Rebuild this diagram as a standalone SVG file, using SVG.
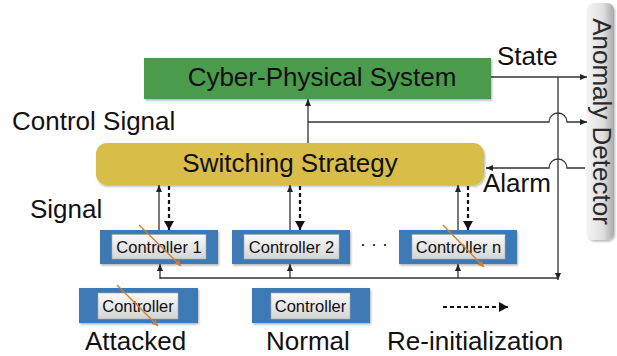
<svg xmlns="http://www.w3.org/2000/svg" width="617" height="356" viewBox="0 0 617 356">
<style>
text{font-family:"Liberation Sans",Arial,Helvetica,sans-serif;fill:#111}
.big{font-size:26px}
.ctl{font-size:16.5px;text-anchor:middle}
.blue{fill:#3e79b4}
.inner{fill:url(#gInner);stroke:#a9a9a9;stroke-width:0.6}
.ln{fill:none;stroke:#333;stroke-width:1.3}
.dash{fill:none;stroke:#111;stroke-width:2.2;stroke-dasharray:4 3}
.atk{fill:none;stroke:#d97a2b;stroke-width:1.3}
</style>
<defs>
<linearGradient id="gInner" x1="0" y1="0" x2="0" y2="1">
<stop offset="0" stop-color="#fbfbfb"/>
<stop offset="1" stop-color="#d4d4d4"/>
</linearGradient>
<linearGradient id="gAD" x1="0" y1="0" x2="1" y2="0">
<stop offset="0" stop-color="#f4f4f4"/>
<stop offset="0.6" stop-color="#dedede"/>
<stop offset="1" stop-color="#a9a9a9"/>
</linearGradient>
<filter id="sh" x="-10%" y="-10%" width="130%" height="140%">
<feDropShadow dx="1" dy="1.5" stdDeviation="1.2" flood-color="#000" flood-opacity="0.3"/>
</filter>
<marker id="ah" markerUnits="userSpaceOnUse" markerWidth="8" markerHeight="6" refX="7" refY="3" orient="auto">
<path d="M0,0 L7,3 L0,6 z" fill="#222"/>
</marker>
<marker id="dh" markerUnits="userSpaceOnUse" markerWidth="10" markerHeight="10" refX="9" refY="5" orient="auto">
<path d="M0,0 L9,5 L0,10 z" fill="#111"/>
</marker>
<marker id="oh" markerUnits="userSpaceOnUse" markerWidth="7" markerHeight="6" refX="6" refY="3" orient="auto">
<path d="M0,0 L6,3 L0,6 z" fill="#d97a2b"/>
</marker>
</defs>
<rect width="617" height="356" fill="#fff"/>

<g id="cps">
<rect x="144" y="58" width="347" height="41" fill="#4c9b4e" filter="url(#sh)"/>
<text class="big" x="322" y="86" text-anchor="middle">Cyber-Physical System</text>
</g>

<g id="switching">
<rect x="96" y="143" width="388" height="42" rx="11" fill="#d8bd49" filter="url(#sh)"/>
<text class="big" x="290" y="172" text-anchor="middle">Switching Strategy</text>
</g>

<g id="anomaly">
<rect x="587" y="3" width="27" height="237" rx="7" fill="url(#gAD)" filter="url(#sh)"/>
<text class="big" transform="translate(593,121.5) rotate(90)" text-anchor="middle" style="fill:#2a2a2a">Anomaly Detector</text>
</g>

<g id="ctrl1">
<rect class="blue" x="100" y="230" width="118" height="34" filter="url(#sh)"/>
<rect class="inner" x="112" y="234.5" width="94" height="24.5"/>
<text class="ctl" x="159" y="252.5">Controller 1</text>
</g>

<g id="ctrl2">
<rect class="blue" x="232" y="230" width="118" height="34" filter="url(#sh)"/>
<rect class="inner" x="244" y="234.5" width="95" height="24.5"/>
<text class="ctl" x="291.5" y="252.5">Controller 2</text>
</g>

<g id="dots">
<text x="374" y="250" font-size="18" text-anchor="middle">· · ·</text>
</g>

<g id="ctrln">
<rect class="blue" x="399" y="230" width="118" height="34" filter="url(#sh)"/>
<rect class="inner" x="412" y="234.5" width="93" height="24.5"/>
<text class="ctl" x="458.5" y="252.5">Controller n</text>
</g>

<g id="legend-attacked">
<rect class="blue" x="79" y="288" width="119" height="35" filter="url(#sh)"/>
<rect class="inner" x="98" y="293" width="80" height="26"/>
<text class="ctl" x="138" y="312">Controller</text>
<line class="atk" x1="117" y1="285" x2="158" y2="326" marker-end="url(#oh)"/>
<text class="big" x="85" y="350">Attacked</text>
</g>

<g id="legend-normal">
<rect class="blue" x="252" y="288" width="118" height="35" filter="url(#sh)"/>
<rect class="inner" x="271" y="293" width="79" height="26"/>
<text class="ctl" x="310.5" y="312">Controller</text>
<text class="big" x="266" y="350">Normal</text>
</g>

<g id="legend-reinit">
<line class="dash" x1="443" y1="307" x2="508" y2="307" stroke-width="2" marker-end="url(#dh)"/>
<text class="big" x="387" y="350">Re-initialization</text>
</g>

<g id="labels">
<text class="big" x="12" y="130">Control Signal</text>
<text class="big" x="30" y="218">Signal</text>
<text class="big" x="497" y="65">State</text>
<text class="big" x="483" y="192">Alarm</text>
</g>

<g id="connectors">
<line class="ln" x1="308" y1="143" x2="308" y2="99" marker-end="url(#ah)"/>
<path class="ln" d="M308,122 H549 A9,9 0 0 1 567,122 H587" marker-end="url(#ah)"/>
<line class="ln" x1="491" y1="77" x2="587" y2="77" marker-end="url(#ah)"/>
<path class="ln" d="M585,168 H567 A9,9 0 0 0 549,168 H486" marker-end="url(#ah)"/>
<line class="ln" x1="558" y1="77" x2="558" y2="280" marker-end="url(#ah)"/>
<line class="ln" x1="160" y1="278" x2="558" y2="278"/>
<line class="ln" x1="160" y1="279" x2="160" y2="264" marker-end="url(#ah)"/>
<line class="ln" x1="290" y1="278" x2="290" y2="264" marker-end="url(#ah)"/>
<line class="ln" x1="458" y1="278" x2="458" y2="264" marker-end="url(#ah)"/>
<line class="ln" x1="159" y1="230" x2="159" y2="185" marker-end="url(#ah)"/>
<line class="ln" x1="290" y1="230" x2="290" y2="185" marker-end="url(#ah)"/>
<line class="ln" x1="458" y1="230" x2="458" y2="185" marker-end="url(#ah)"/>
<line class="dash" x1="169" y1="186" x2="169" y2="230" marker-end="url(#dh)"/>
<line class="dash" x1="300" y1="186" x2="300" y2="230" marker-end="url(#dh)"/>
<line class="dash" x1="468" y1="186" x2="468" y2="230" marker-end="url(#dh)"/>
<line class="atk" x1="139" y1="225" x2="181" y2="266" marker-end="url(#oh)"/>
<line class="atk" x1="443" y1="225" x2="484" y2="267" marker-end="url(#oh)"/>
</g>
</svg>
